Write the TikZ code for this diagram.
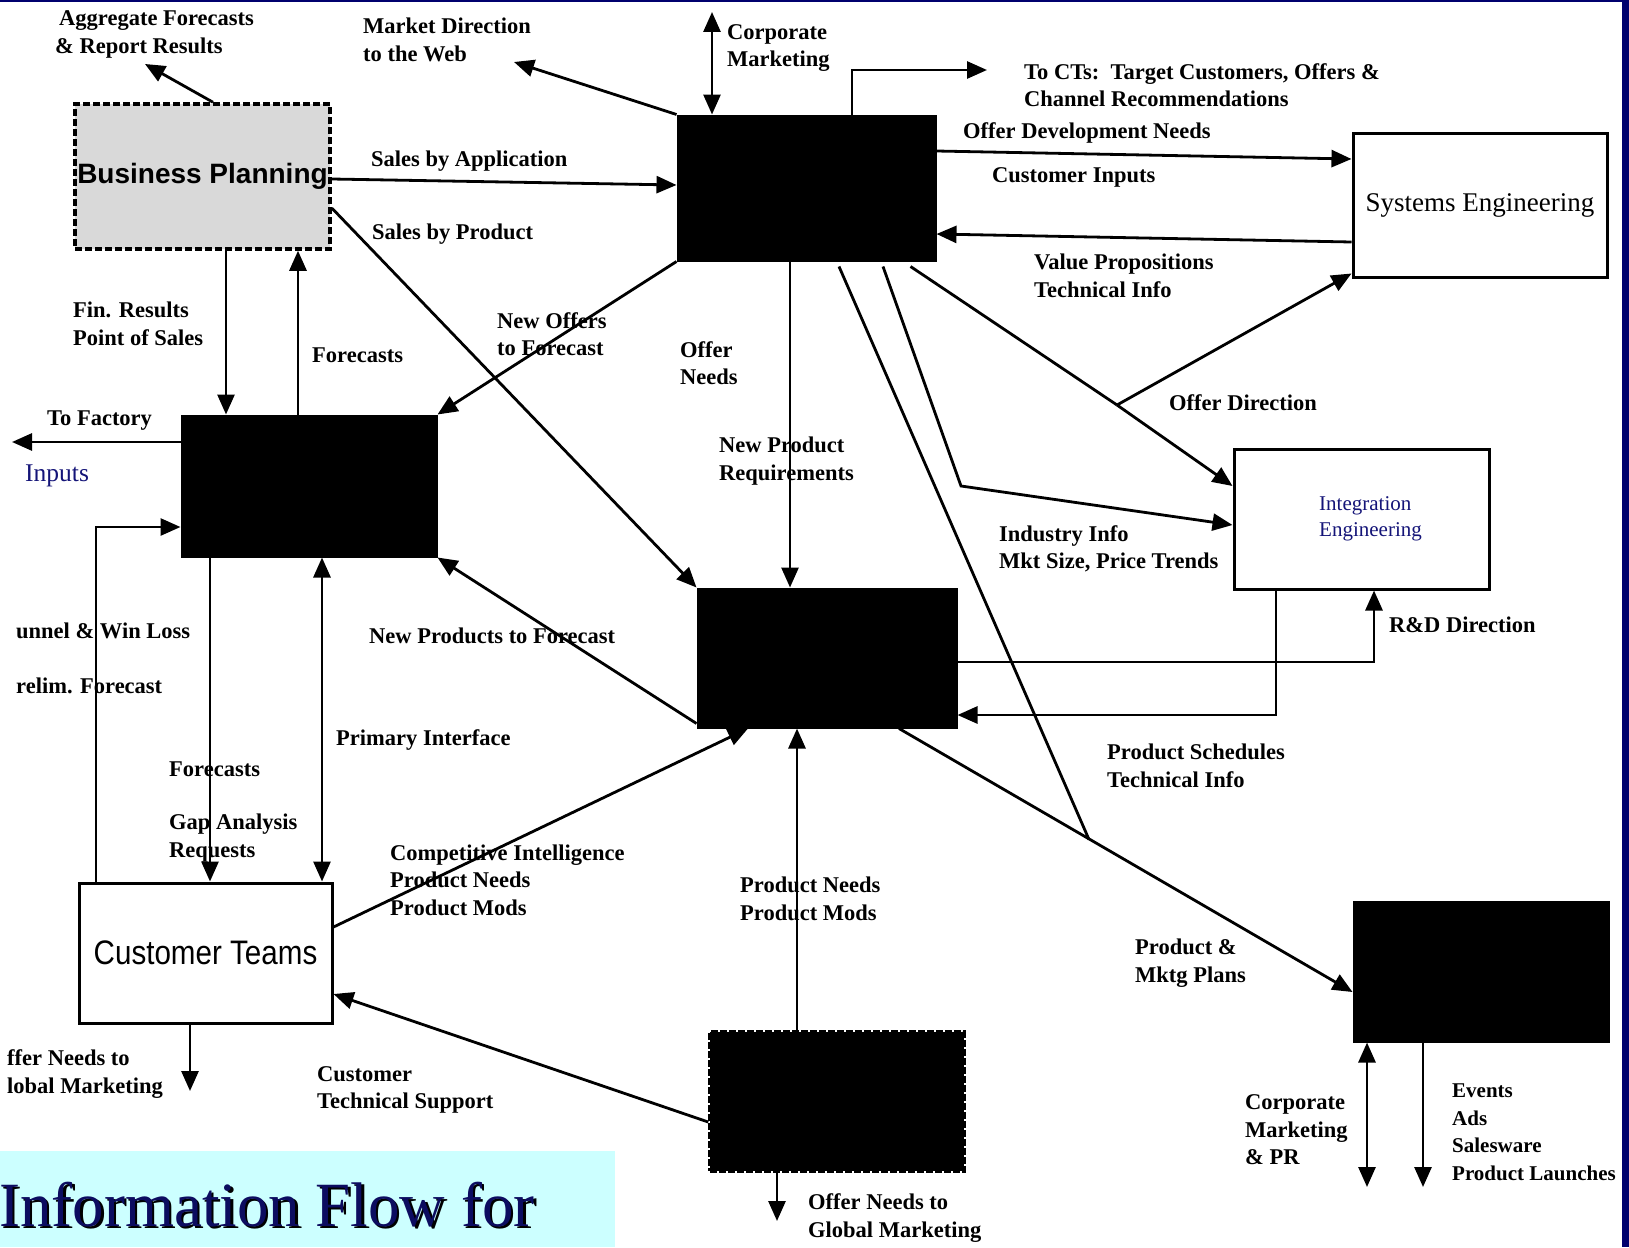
\documentclass[tikz,border=0pt]{standalone}
\usepackage{fontspec}
\setmainfont{Liberation Serif}
\newfontfamily\sansf{Liberation Sans}
\newfontfamily\ctf[FakeStretch=0.87]{Liberation Sans}
\usetikzlibrary{arrows.meta}
\definecolor{navyb}{RGB}{0,0,110}
\definecolor{titlecol}{RGB}{12,12,96}
\definecolor{cyanbg}{RGB}{204,255,255}
\definecolor{bluetxt}{RGB}{20,20,120}
\begin{document}
\begin{tikzpicture}[x=1pt,y=-1pt,
  wbox/.style={draw=black, line width=3pt, rectangle, inner sep=0pt, fill=white},
  blk/.style={draw=black, line width=3pt, rectangle, inner sep=0pt, fill=black},
  lbl/.style={font=\fontsize{22.5}{27.5}\selectfont\bfseries, align=left, anchor=west, inner sep=0pt},
  flow/.style={line width=2.8pt, -{Triangle[length=20pt,width=17pt]}},
  dflow/.style={line width=2.8pt, {Triangle[length=20pt,width=17pt]}-{Triangle[length=20pt,width=17pt]}},
  plain/.style={line width=2.8pt}
]
\useasboundingbox (0,0) rectangle (1629,1247);
\fill[white] (0,0) rectangle (1629,1247);

% boxes
\node[wbox, fill=black!15, dash pattern=on 7pt off 3pt, line width=3.5pt, minimum width=255pt, minimum height=145pt,
      font=\sansf\bfseries\fontsize{28}{30}\selectfont] (bp) at (202.5,176.5) {Business Planning};
\node[blk, minimum width=257pt, minimum height=144pt] (mkt) at (806.5,188) {};
\node[wbox, minimum width=254pt, minimum height=144pt, font=\fontsize{27}{30}\selectfont] (se) at (1480,205) {Systems Engineering};
\node[blk, minimum width=254pt, minimum height=140pt] (dm) at (309,486) {};
\node[blk, minimum width=258pt, minimum height=138pt] (pm) at (827,658) {};
\node[wbox, minimum width=255pt, minimum height=140pt, align=left, text=bluetxt, font=\fontsize{21}{25.5}\selectfont] (ie) at (1361.5,519) {\hspace*{18pt}Integration\\\hspace*{18pt}Engineering};
\node[wbox, minimum width=253pt, minimum height=140pt, font=\ctf\fontsize{34}{36}\selectfont] (ct) at (205.5,953) {Customer Teams};
\node[blk, dash pattern=on 7pt off 2pt, line width=3.5pt, minimum width=254pt, minimum height=139pt] (sm) at (837,1101.5) {};
\node[blk, minimum width=254pt, minimum height=139pt] (mc) at (1481,971.5) {};

% free ends
\coordinate (agg) at (145,64);
\coordinate (mdir) at (514,62);
\coordinate (cmtop) at (712,12);
\coordinate (cts) at (987,70);
\coordinate (od) at (1117,405);
\coordinate (ii) at (961,486);
\coordinate (pj) at (1089,839.5);
\coordinate (fac) at (12,442);
\coordinate (ogm) at (777,1221);
\coordinate (ogm2) at (190,1091);
\coordinate (cmpr) at (1367,1187);
\coordinate (evt) at (1423,1187);

% connectors
\draw[flow] ([xshift=10.5]bp.north) -- (agg);
\draw[flow] (mkt.north west) -- (mdir);
\draw[dflow] (cmtop) -- ([xshift=-94.5]mkt.north);
\draw[flow] ([xshift=45.5]mkt.north) |- (cts);
\draw[flow] ([yshift=-2.5]bp.east) -- ([yshift=3]mkt.west);
\draw[flow] ([yshift=-31.5]bp.east) -- (pm.north west);
\draw[flow] ([yshift=37]mkt.east) -- ([yshift=46]se.west);
\draw[flow] ([yshift=-37]se.west) -- ([yshift=-46]mkt.east);
\draw[plain] ([xshift=-26,yshift=-5]mkt.south east) -- (od);
\draw[flow] (od) -- ([yshift=33]ie.west);
\draw[flow] (od) -- ([yshift=5]se.south west);
\draw[flow] ([xshift=76.5,yshift=-5]mkt.south) -- (ii) -- ([yshift=-6]ie.west);
\draw[plain] ([xshift=32.5,yshift=-5]mkt.south) -- (pj);
\draw[flow] ([xshift=-16.5]mkt.south) -- ([xshift=-37]pm.north);
\draw[flow] (mkt.south west) -- (dm.north east);
\draw[flow] ([xshift=23.5]bp.south) -- ([xshift=-83]dm.north);
\draw[flow] ([xshift=-11]dm.north) -- ([xshift=95.5]bp.south);
\draw[flow] ([yshift=44]dm.west) -- (fac);
\draw[flow] ([xshift=-109.5]ct.north) |- ([yshift=-41]dm.west);
\draw[flow] ([xshift=-99]dm.south) -- ([xshift=4.5]ct.north);
\draw[dflow] ([xshift=13]dm.south) -- ([xshift=116.5]ct.north);
\draw[flow] ([yshift=5]pm.south west) -- (dm.south east);
\draw[flow] ([yshift=26]ct.east) -- ([xshift=-79]pm.south);
\draw[flow] ([xshift=-40]sm.north) -- ([xshift=-30]pm.south);
\draw[flow] ([yshift=-20.5]sm.west) -- ([yshift=-41]ct.east);
\draw[flow] ([xshift=-60]sm.south) -- (ogm);
\draw[flow] ([xshift=-15.5]ct.south) -- (ogm2);
\draw[flow] ([yshift=-4]pm.east) -| ([xshift=12.5]ie.south);
\draw[flow] ([xshift=-85.5]ie.south) |- ([yshift=-57]pm.east);
\draw[flow] ([xshift=72]pm.south) -- ([yshift=-20.5]mc.west);
\draw[dflow] ([xshift=-114]mc.south) -- (cmpr);
\draw[flow] ([xshift=-58]mc.south) -- (evt);

% labels
\node[lbl] (l1) at (55,34.5) {\hspace*{4pt}Aggregate Forecasts\\\& Report Results};
\node[lbl] (l2) at (363,40) {Market Direction\\to the Web};
\node[lbl] (l3) at (727,48) {Corporate\\Marketing};
\node[lbl] (l4) at (1024,85) {To CTs:\ \ Target Customers, Offers \&\\Channel Recommendations};
\node[lbl] (l5) at (371,161) {Sales by Application};
\node[lbl] (l6) at (372,234) {Sales by Product};
\node[lbl] (l7) at (963,133) {Offer Development Needs};
\node[lbl] (l8) at (992,177) {Customer Inputs};
\node[lbl] (l9) at (1034,276) {Value Propositions\\Technical Info};
\node[lbl] (l10) at (1169,403) {Offer Direction};
\node[lbl] (l11) at (999,549) {Industry Info\\Mkt Size, Price Trends};
\node[lbl] (l12) at (680,363) {Offer\\Needs};
\node[lbl] (l13) at (719,461) {New Product\\Requirements};
\node[lbl] (l14) at (497,334) {New Offers\\to Forecast};
\node[lbl] (l15) at (73,324) {Fin. Results\\Point of Sales};
\node[lbl] (l16) at (312,355) {Forecasts};
\node[lbl] (l17) at (47,421) {To Factory};
\node[anchor=west, inner sep=0pt, text=bluetxt, font=\fontsize{25.5}{27}\selectfont] (l18) at (25,476) {Inputs};
\node[lbl] (l19) at (16,631) {unnel \& Win Loss};
\node[lbl] (l20) at (16,686) {relim. Forecast};
\node[lbl] (l21) at (169,769) {Forecasts};
\node[lbl] (l22) at (169,838) {Gap Analysis\\Requests};
\node[lbl] (l23) at (336,740) {Primary Interface};
\node[lbl] (l24) at (369,636) {New Products to Forecast};
\node[lbl] (l25) at (390,880) {Competitive Intelligence\\Product Needs\\Product Mods};
\node[lbl] (l26) at (740,899) {Product Needs\\Product Mods};
\node[lbl] (l27) at (317,1090) {Customer\\Technical Support};
\node[lbl] (l28) at (808,1218) {Offer Needs to\\Global Marketing};
\node[lbl] (l29) at (7,1074) {ffer Needs to\\lobal Marketing};
\node[lbl] (l30) at (1389,625) {R\&D Direction};
\node[lbl] (l31) at (1107,766) {Product Schedules\\Technical Info};
\node[lbl] (l32) at (1135,963) {Product \&\\Mktg Plans};
\node[lbl] (l33) at (1245,1130) {Corporate\\Marketing\\\& PR};
\node[lbl, font=\fontsize{21}{27.5}\selectfont\bfseries] (l34) at (1452,1132) {Events\\Ads\\Salesware\\Product Launches};

% frame
\fill[navyb] (0,0) rectangle (1629,2.5);
\fill[navyb] (1622,0) rectangle (1629,1247);

% title
\fill[cyanbg] (0,1151) rectangle (615,1247);
\node[anchor=base west, inner sep=0pt, text=black, font=\fontsize{63}{66}\selectfont] (tsh) at (1.5,1228.5) {Information Flow for};
\node[anchor=base west, inner sep=0pt, text=titlecol, font=\fontsize{63}{66}\selectfont] (title) at (-1,1226) {Information Flow for};
\end{tikzpicture}
\end{document}
